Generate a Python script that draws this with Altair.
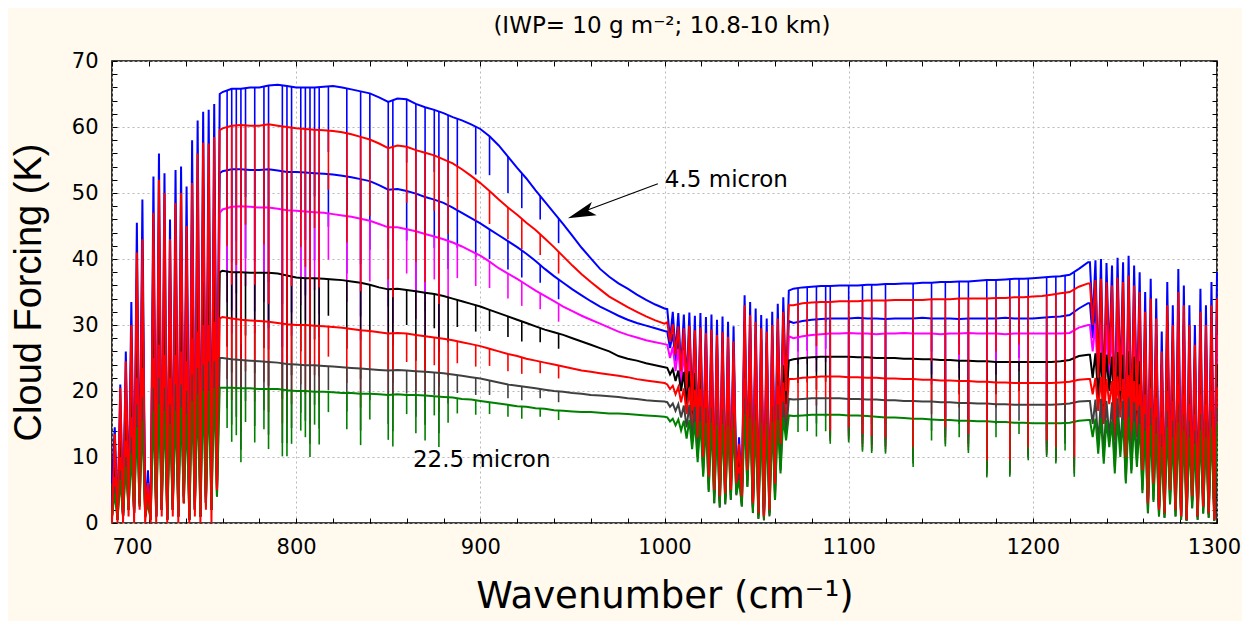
import altair as alt
import pandas as pd

# ---------------- wavenumber grids (cm-1) ----------------
wn_a = [700, 701.5, 703, 704.5, 706, 707.5, 709, 710.5, 712, 713.5, 715, 716.5, 718, 719.5,
        721, 722.5, 724, 725.5, 727, 728.5, 730, 731.5, 733, 734.5, 736, 737.5, 739, 740.5,
        742, 743.5, 745, 746.5, 748, 749.5, 751, 752.5, 754, 755.5, 757, 758.5]
wn_b = [760, 765, 770, 775, 780, 785, 790, 795, 800, 805, 810, 815, 820, 825, 830, 835, 840,
        845, 850, 855, 860, 865, 870, 875, 880, 885, 890, 895, 900, 905, 910, 915, 920, 925,
        930, 935, 940, 945, 950, 955, 960, 965, 970, 975, 980, 985, 990, 995, 1000]
wn_c = [1001.5, 1003, 1004.5, 1006, 1007.5, 1009, 1010.5, 1012, 1013.5, 1015, 1016.5, 1018,
        1019.5, 1021, 1022.5, 1024, 1025.5, 1027, 1028.5, 1030, 1031.5, 1033, 1034.5, 1036,
        1037.5, 1039, 1040.5, 1042, 1043.5, 1045, 1046.5, 1048, 1049.5, 1051, 1052.5, 1054,
        1055.5, 1057, 1058.5, 1060, 1061.5, 1063, 1064.5, 1066, 1067.5]
wn_d = [1070, 1075, 1080, 1085, 1090, 1095, 1100, 1105, 1110, 1115, 1120, 1125, 1130, 1135,
        1140, 1145, 1150, 1155, 1160, 1165, 1170, 1175, 1180, 1185, 1190, 1195, 1200, 1205,
        1210, 1215, 1220, 1225, 1230]
wn_e = [1231, 1232.5, 1234, 1235.5, 1237, 1238.5, 1240, 1241.5, 1243, 1244.5, 1246, 1247.5,
        1249, 1250.5, 1252, 1253.5, 1255, 1256.5, 1258, 1259.5, 1261, 1262.5, 1264, 1265.5,
        1267, 1268.5, 1270, 1271.5, 1273, 1274.5, 1276, 1277.5, 1279, 1280.5, 1282, 1283.5,
        1285, 1286.5, 1288, 1289.5, 1291, 1292.5, 1294, 1295.5, 1297, 1298.5, 1300]

# ---------------- cloud forcing (K), series 1 = 4.5 micron ... series 8 = 22.5 micron ----------------
# s1 (blue, top)
s1_a = [6, 14.5, 0.5, 21, 1, 26, 3, 33.5, 2, 45.5, 4, 49, 1, 8, 0.5, 52.5, 1, 56, 2, 53,
        0.5, 46, 3, 53.5, 1, 54, 5, 51, 0.5, 58, 2, 61, 1, 62.3, 4, 62.6, 2, 63.5, 8, 65]
s1_b = [65.3, 65.8, 65.8, 66.0, 66.0, 66.3, 66.4, 66.2, 66.0, 66.0, 66.0, 66.1, 66.2, 66.0,
        65.7, 65.4, 65.1, 64.5, 63.8, 64.3, 64.2, 63.5, 63.0, 62.6, 62.1, 61.5, 61.0, 60.4,
        59.7, 58.6, 57.2, 55.5, 53.8, 52.2, 50.4, 48.7, 47.0, 45.3, 43.5, 41.7, 40.1, 38.5,
        37.3, 36.3, 35.5, 34.6, 33.8, 33.1, 32.5]
s1_c = [32.4, 27.8, 32.0, 25.8, 31.8, 23.3, 31.6, 20.8, 31.9, 17.3, 31.4, 13.3, 31.8, 10.3,
        31.2, 7.3, 31.6, 5.3, 30.8, 4.3, 31.3, 4.8, 30.5, 5.3, 29.8, 6.3, 13, 4.3, 34.5, 8.3,
        33.5, 3.3, 32.5, 1.8, 31.5, 1.3, 31, 2.3, 32, 6.3, 33.2, 12.3, 34.2, 20.3, 35.2]
s1_d = [35.5, 35.7, 35.8, 35.9, 35.9, 36.0, 36.0, 36.0, 36.1, 36.1, 36.2, 36.2, 36.3, 36.3,
        36.4, 36.4, 36.5, 36.5, 36.6, 36.6, 36.7, 36.8, 36.8, 36.9, 37.0, 37.0, 37.1, 37.2,
        37.3, 37.4, 37.6, 38.5, 39.5]
s1_e = [39.5, 30.5, 39.8, 22.5, 40, 18.5, 39.4, 24.5, 39, 15.5, 40.2, 20.5, 39.5, 10.5, 40.5,
        14.5, 39, 17.5, 38, 8.5, 35, 3.5, 37, 6.5, 34, 2.5, 29, 2, 36.5, 5.5, 33, 2.5, 38.5,
        1.5, 36, 1, 33, 4.5, 30, 1.5, 35.5, 3, 33, 2, 36.5, 1, 38]

# s2 (red, second)
s2_a = [0, 13.5, 0, 20.5, 0, 24.5, 1, 30, 0, 41, 2, 43, 0, 6, 0, 47, 0, 52, 1, 50,
        0, 43, 1, 48.5, 0, 50, 3, 45, 0, 51.5, 1, 56, 0, 57.6, 2, 57.5, 0, 58.5, 5, 59.5]
s2_b = [59.8, 60.2, 60.3, 60.2, 60.2, 60.4, 60.2, 60.0, 59.8, 59.7, 59.6, 59.5, 59.4, 59.2,
        58.9, 58.5, 58.1, 57.5, 56.8, 57.2, 57.0, 56.5, 56.1, 55.7, 55.1, 54.5, 53.6, 52.6,
        51.5, 50.3, 49.0, 47.8, 46.7, 45.5, 44.4, 43.1, 41.8, 40.4, 39.0, 37.7, 36.5, 35.4,
        34.3, 33.5, 32.7, 32.0, 31.3, 30.7, 30.2]
s2_c = [30.4, 27.5, 30.1, 25.5, 29.8, 23, 29.5, 20.5, 29.9, 17, 29.2, 13, 29.6, 10, 28.8, 7,
        29.3, 5, 28.5, 4, 28.9, 4.5, 28.2, 5, 27.5, 6, 12, 4, 33, 8, 31.5, 3, 30.5, 1.5, 29.5,
        1, 29, 2, 30, 6, 31, 12, 32, 20, 33]
s2_d = [33.0, 33.3, 33.4, 33.5, 33.5, 33.6, 33.6, 33.6, 33.7, 33.7, 33.7, 33.8, 33.8, 33.8,
        33.8, 33.9, 33.9, 33.9, 34.0, 34.0, 34.0, 34.0, 34.1, 34.1, 34.2, 34.2, 34.3, 34.4,
        34.6, 34.8, 35.0, 35.8, 36.3]
s2_e = [36.3, 30, 36.8, 22, 37, 18, 36.5, 24, 36, 15, 37.2, 20, 36.5, 10, 37.5, 14, 36, 17,
        35, 8, 32, 3, 34, 6, 31, 2, 26, 1.5, 33, 5, 30, 2, 35, 1, 33, 0.5, 30, 4, 27, 1, 32,
        2.5, 30, 1.5, 33, 0.5, 34]

# s3 (blue, third)
s3_a = [1, 12, 0.5, 17, 1, 21.5, 2, 27.5, 1.5, 37, 3, 40, 1, 6.5, 0.5, 43, 1, 46, 2, 43.5,
        0.5, 38, 2, 44, 1, 44.5, 4, 42, 0.5, 47.5, 2, 50, 1, 51, 3, 51.5, 2, 52, 7, 53]
s3_b = [53.3, 53.6, 53.6, 53.5, 53.5, 53.6, 53.4, 53.2, 53.2, 53.1, 53.0, 52.9, 52.8, 52.6,
        52.4, 52.1, 51.8, 51.2, 50.5, 50.6, 50.3, 49.9, 49.4, 49.0, 48.5, 47.8, 47.0, 46.2,
        45.4, 44.5, 43.6, 42.7, 41.8, 40.8, 39.7, 38.5, 37.4, 36.4, 35.4, 34.5, 33.6, 32.8,
        32.1, 31.4, 30.8, 30.3, 29.9, 29.5, 29.1]
s3_c = [29.0, 26.5, 28.7, 24.5, 28.4, 22, 28.2, 19.5, 28.4, 16.5, 27.9, 12.5, 28.1, 9.5, 27.6,
        6.5, 27.9, 4.5, 27.3, 3.8, 27.6, 4.2, 27.0, 4.8, 26.3, 5.8, 11, 3.8, 30.5, 7.5, 29.5,
        2.8, 28.6, 1.4, 27.8, 1, 27.3, 1.8, 28.2, 5.5, 29, 11, 29.8, 18.5, 30.6]
s3_d = [30.3, 30.6, 30.8, 30.9, 31.0, 31.0, 31.0, 31.1, 31.0, 31.0, 30.9, 31.0, 31.0, 31.0,
        31.1, 31.0, 31.0, 31.0, 30.9, 31.0, 31.0, 31.0, 31.0, 31.1, 31.0, 31.0, 31.0, 31.1,
        31.2, 31.3, 31.5, 32.5, 33.3]
s3_e = [33.3, 28, 33.6, 21, 33.8, 17.5, 33.3, 23, 33, 14.5, 34, 19.5, 33.4, 9.5, 34.3, 13.5,
        33, 16.5, 32, 7.8, 29.5, 2.8, 31, 5.8, 28.5, 1.9, 24, 1.4, 30.5, 4.8, 27.5, 1.9, 32,
        0.9, 30, 0.5, 27.5, 3.8, 25, 0.9, 29.5, 2.4, 27.5, 1.4, 30.5, 0.5, 31.5]

# s4 (magenta)
s4_a = [1, 10.5, 0.5, 15, 1, 19, 2, 24.5, 1.5, 33, 3, 35.5, 1, 6, 0.5, 38.5, 1, 41, 2, 38.5,
        0.5, 33.5, 2, 39, 1, 39.5, 4, 37, 0.5, 42.5, 2, 44.5, 1, 45.5, 3, 45.5, 2, 46.5, 6, 47]
s4_b = [47.5, 47.9, 48.0, 47.9, 47.8, 47.8, 47.6, 47.4, 47.3, 47.2, 47.1, 47.0, 46.8, 46.6,
        46.4, 46.1, 45.8, 45.3, 44.8, 44.8, 44.5, 44.2, 43.8, 43.4, 43.0, 42.5, 41.9, 41.2,
        40.5, 39.6, 38.6, 37.8, 37.0, 36.1, 35.2, 34.4, 33.6, 32.8, 32.1, 31.4, 30.8, 30.2,
        29.6, 29.0, 28.5, 28.1, 27.7, 27.4, 27.1]
s4_c = [27.0, 25, 26.7, 23, 26.4, 21, 26.2, 18.5, 26.4, 15.5, 26.0, 12, 26.2, 9, 25.7, 6.2,
        25.9, 4.3, 25.4, 3.6, 25.7, 4, 25.2, 4.6, 24.5, 5.5, 10.5, 3.6, 28.2, 7, 27.3, 2.6,
        26.5, 1.3, 25.8, 0.9, 25.4, 1.7, 26.1, 5, 26.8, 10, 27.5, 17, 28.3]
s4_d = [28.0, 28.3, 28.5, 28.6, 28.7, 28.7, 28.8, 28.7, 28.7, 28.6, 28.7, 28.7, 28.8, 28.7,
        28.7, 28.7, 28.6, 28.7, 28.7, 28.8, 28.7, 28.7, 28.7, 28.6, 28.7, 28.7, 28.7, 28.7,
        28.7, 28.7, 28.8, 29.6, 30.0]
s4_e = [30, 26, 30.2, 20.5, 30.4, 17, 30, 22, 29.7, 14, 30.5, 19, 30, 9.5, 30.8, 13, 29.7, 16,
        28.8, 7.5, 26.5, 2.8, 28, 5.5, 25.5, 1.9, 21.5, 1.4, 27.5, 4.7, 24.5, 1.9, 29, 0.9,
        27, 0.5, 24.5, 3.7, 22.5, 0.9, 26.5, 2.3, 24.5, 1.4, 27.5, 0.5, 28.5]

# s5 (black)
s5_a = [1, 8.5, 0.5, 12.5, 1, 15.5, 2, 20, 1.5, 27, 3, 29, 1, 5, 0.5, 31, 1, 33, 2, 31.5,
        0.5, 27, 2, 31.5, 1, 32, 4, 30, 0.5, 34, 2, 36, 1, 36.5, 3, 37, 2, 37.5, 5, 38]
s5_b = [38.2, 38.0, 38.0, 37.9, 37.9, 37.9, 37.8, 37.5, 37.2, 37.1, 37.1, 37.0, 36.9, 36.8,
        36.6, 36.4, 36.1, 35.7, 35.4, 35.5, 35.3, 35.1, 34.9, 34.7, 34.4, 34.0, 33.6, 33.2,
        32.8, 32.3, 31.8, 31.3, 30.8, 30.3, 29.8, 29.3, 28.9, 28.5, 28.0, 27.5, 27.0, 26.5,
        26.0, 25.3, 24.9, 24.6, 24.2, 23.9, 23.6]
s5_c = [23.5, 22.5, 23.3, 21.5, 23.1, 20, 22.9, 18, 23.0, 15.5, 22.7, 13.5, 22.8, 11, 22.5,
        7.5, 22.6, 4.5, 22.2, 3.3, 22.4, 3.8, 22.0, 5.5, 21.5, 6.5, 9.5, 3.3, 24.5, 9, 23.7,
        2.4, 23.0, 1.2, 22.5, 0.8, 22.2, 2.2, 22.8, 6.5, 23.3, 12, 23.9, 18, 24.6]
s5_d = [24.8, 25.0, 25.1, 25.2, 25.2, 25.2, 25.2, 25.1, 25.1, 25.0, 25.0, 25.0, 24.9, 24.9,
        24.8, 24.8, 24.7, 24.7, 24.6, 24.6, 24.5, 24.5, 24.4, 24.4, 24.4, 24.4, 24.4, 24.4,
        24.4, 24.5, 24.7, 25.3, 25.5]
s5_e = [25.5, 22, 25.7, 19, 25.8, 17, 25.5, 20, 25.2, 14, 25.9, 18, 25.5, 10, 26, 13, 25.2,
        15, 24.5, 7.5, 22.5, 3, 24, 5.5, 22, 2, 18, 1.5, 23, 4.5, 21, 2, 24.5, 1, 23, 0.5, 21,
        3.5, 19, 1, 22.5, 2.5, 21, 1.5, 23, 0.5, 24]

# s6 (red, lower)
s6_a = [1, 7, 0.5, 10, 1, 12.5, 2, 16, 1.5, 22, 3, 23.5, 1, 4, 0.5, 25, 1, 27, 2, 25.5,
        0.5, 22, 2, 25.5, 1, 26, 3, 24.5, 0.5, 28, 2, 29, 1, 30, 3, 30, 2, 30.5, 5, 31]
s6_b = [31.2, 31.0, 30.8, 30.7, 30.6, 30.5, 30.3, 30.1, 30.0, 30.0, 29.9, 29.8, 29.7, 29.6,
        29.4, 29.2, 29.1, 28.9, 28.7, 28.8, 28.7, 28.5, 28.3, 28.1, 27.9, 27.7, 27.4, 27.1,
        26.8, 26.4, 26.0, 25.6, 25.3, 24.9, 24.6, 24.3, 24.0, 23.7, 23.4, 23.1, 22.9, 22.7,
        22.5, 22.3, 22.1, 21.8, 21.6, 21.4, 21.2]
s6_c = [21.0, 20.3, 20.8, 19.5, 20.6, 18.3, 20.4, 16.5, 20.5, 14, 20.2, 11.5, 20.3, 8.5, 20.0,
        6, 20.1, 4, 19.8, 3, 19.9, 3.5, 19.6, 4.3, 19.2, 5, 8.5, 3, 22.0, 6.5, 21.3, 2.2, 20.7,
        1, 20.2, 0.7, 20.0, 1.5, 20.4, 4.5, 20.8, 9, 21.3, 15, 21.8]
s6_d = [21.8, 22.0, 22.1, 22.2, 22.2, 22.2, 22.1, 22.1, 22.0, 22.0, 21.9, 21.9, 21.8, 21.8,
        21.7, 21.7, 21.6, 21.6, 21.5, 21.5, 21.4, 21.4, 21.3, 21.3, 21.2, 21.2, 21.2, 21.2,
        21.2, 21.3, 21.4, 21.7, 21.8]
s6_e = [21.8, 19.5, 22, 17, 22.1, 15, 21.8, 18, 21.5, 12.5, 22.2, 16, 21.8, 9, 22.4, 11.5,
        21.5, 13, 21, 7, 19.5, 2.8, 20.5, 5, 19, 1.8, 16, 1.3, 20, 4.3, 18.5, 1.8, 21, 0.9,
        19.5, 0.5, 18, 3.3, 16.5, 0.9, 19.5, 2.2, 18, 1.3, 20, 0.5, 20.5]

# s7 (dark grey)
s7_a = [1, 5.5, 0.5, 8, 1, 10, 2, 13, 1.5, 18, 2.5, 19, 1, 3.5, 0.5, 20.5, 1, 22, 2, 20.5,
        0.5, 18, 2, 21, 1, 21, 3, 20, 0.5, 22.5, 2, 23.5, 1, 24, 3, 24.5, 2, 24.5, 4, 25]
s7_b = [25.0, 24.8, 24.7, 24.6, 24.5, 24.4, 24.3, 24.1, 24.0, 23.9, 23.9, 23.8, 23.7, 23.6,
        23.5, 23.4, 23.3, 23.2, 23.1, 23.2, 23.1, 23.0, 22.9, 22.8, 22.7, 22.5, 22.3, 22.1,
        21.9, 21.6, 21.3, 21.0, 20.8, 20.6, 20.4, 20.2, 20.0, 19.9, 19.7, 19.6, 19.4, 19.3,
        19.2, 19.1, 18.9, 18.8, 18.6, 18.5, 18.4]
s7_c = [18.3, 17.6, 18.1, 17, 18.0, 16, 17.8, 14.5, 17.9, 12.5, 17.6, 10, 17.7, 7.5, 17.4, 5,
        17.5, 3, 17.2, 2.3, 17.3, 2.8, 17.0, 3.5, 16.6, 4.2, 7.5, 2.5, 19.0, 5.5, 18.4, 1.5,
        18.0, 0.6, 17.6, 0.4, 17.4, 1, 17.7, 3.5, 18.0, 8, 18.4, 13.5, 18.8]
s7_d = [18.7, 18.8, 18.9, 18.9, 18.9, 18.9, 18.8, 18.8, 18.7, 18.7, 18.6, 18.6, 18.5, 18.5,
        18.4, 18.4, 18.3, 18.3, 18.2, 18.2, 18.1, 18.1, 18.0, 18.0, 17.9, 17.9, 17.9, 17.9,
        17.9, 18.0, 18.1, 18.4, 18.5]
s7_e = [18.5, 15, 18.7, 12, 18.8, 10, 18.5, 13, 18.3, 8.5, 18.9, 11, 18.5, 6.5, 19, 8, 18.3,
        9.5, 17.8, 5, 16.5, 1.5, 17.5, 3.5, 16, 1, 13.5, 0.8, 17, 3, 15.5, 1, 18, 0.5, 16.5,
        0.3, 15.5, 2.3, 14, 0.5, 16.5, 1.5, 15.5, 0.8, 17, 0.3, 17.5]

# s8 (green, bottom)
s8_a = [1, 4.5, 0.5, 6.5, 1, 8.5, 2, 10.5, 1.5, 14.5, 2.5, 15.5, 1, 3, 0.5, 17, 1, 18, 2, 17,
        0.5, 15, 2, 17, 1, 17.5, 3, 16.5, 0.5, 18.5, 2, 19.5, 1, 20, 2.5, 20, 2, 20.5, 4, 20.5]
s8_b = [20.5, 20.5, 20.4, 20.4, 20.3, 20.3, 20.3, 20.1, 20.0, 20.0, 19.9, 19.9, 19.8, 19.7,
        19.7, 19.6, 19.6, 19.5, 19.4, 19.5, 19.4, 19.4, 19.3, 19.2, 19.1, 19.0, 18.8, 18.7,
        18.5, 18.3, 18.1, 17.9, 17.7, 17.6, 17.4, 17.3, 17.1, 17.0, 16.9, 16.8, 16.8, 16.7,
        16.6, 16.6, 16.5, 16.4, 16.3, 16.2, 16.1]
s8_c = [16.0, 15.4, 15.8, 14.8, 15.7, 14, 15.5, 12.8, 15.6, 11.2, 15.3, 9.2, 15.4, 7, 15.1,
        4.7, 15.2, 3, 14.9, 2.5, 15.0, 3, 14.7, 3.6, 14.4, 4.4, 6.5, 2.5, 16.4, 5.5, 15.9, 1.6,
        15.5, 0.7, 15.2, 0.5, 15.0, 1.2, 15.3, 3.5, 15.6, 7.5, 16.0, 12.5, 16.3]
s8_d = [16.2, 16.3, 16.4, 16.4, 16.4, 16.4, 16.3, 16.3, 16.2, 16.1, 16.0, 16.0, 15.9, 15.8,
        15.8, 15.7, 15.6, 15.6, 15.5, 15.5, 15.4, 15.4, 15.3, 15.3, 15.2, 15.2, 15.1, 15.1,
        15.1, 15.1, 15.2, 15.5, 15.6]
s8_e = [15.6, 13, 15.8, 10.5, 15.9, 9, 15.6, 11.5, 15.4, 7.5, 16, 10, 15.6, 6, 16.1, 7.5, 15.4,
        8.5, 15, 4.5, 14, 1.5, 14.8, 3.2, 13.5, 1, 11.5, 0.8, 14.5, 2.8, 13, 1, 15.2, 0.5, 14,
        0.3, 13, 2.2, 12, 0.5, 14, 1.4, 13, 0.8, 14.5, 0.3, 15]

# ---------------- narrow absorption lines in the window regions ----------------
dip_wn = [762.5, 765, 767.5, 770, 772.5, 777.5, 782.5, 785, 792.5, 795, 797.5, 802.5, 805,
          807.5, 810, 812.5, 817.5, 827.5, 835, 840, 850, 852.5, 860, 865, 870, 875, 877.5,
          882.5, 887.5, 897.5, 905, 915, 922.5, 932.5, 942.5,
          1072.5, 1077.5, 1082.5, 1087.5, 1090, 1100, 1107.5, 1112.5, 1120, 1135, 1145, 1152.5,
          1160, 1165, 1175, 1180, 1187.5, 1192.5, 1197.5, 1207.5, 1212.5, 1217.5, 1222.5]

s1_top = [65.5, 65.8, 65.8, 65.8, 65.9, 66.0, 66.1, 66.3, 66.3, 66.2, 66.1, 66.0, 66.0, 66.0,
          66.0, 66.0, 66.1, 65.8, 65.4, 65.1, 63.8, 64.0, 64.2, 63.5, 63.0, 62.6, 62.3, 61.8,
          61.2, 60.0, 58.6, 55.5, 53.0, 49.5, 46.1,
          35.6, 35.8, 35.9, 35.9, 35.9, 36.0, 36.0, 36.1, 36.2, 36.3, 36.4, 36.5, 36.6, 36.6,
          36.8, 36.8, 36.9, 37.0, 37.0, 37.2, 37.3, 37.5, 38.0]
s1_min = [45.9, 39.5, 42.8, 29.6, 49.4, 39.6, 46.3, 36.5, 33.2, 33.1, 39.7, 46.2, 42.9, 33.0,
          49.5, 39.6, 56.2, 47.4, 39.2, 52.1, 41.5, 38.4, 54.6, 44.5, 41.0, 53.2, 37.4, 49.4,
          53.9, 52.8, 52.7, 50.0, 47.7, 46.0, 42.4,
          30.3, 30.4, 28.7, 30.5, 16, 16.5, 15, 15, 15, 13, 26, 16, 27, 15, 11, 28, 11, 29, 13,
          14, 13, 20, 12]
s2_top = [60.0, 60.2, 60.2, 60.3, 60.2, 60.2, 60.3, 60.4, 60.1, 60.0, 59.9, 59.7, 59.7, 59.6,
          59.6, 59.5, 59.4, 59.0, 58.5, 58.1, 56.8, 57.0, 57.0, 56.5, 56.1, 55.7, 55.4, 54.8,
          54.0, 52.0, 50.3, 47.8, 46.1, 43.7, 41.1,
          33.2, 33.4, 33.5, 33.5, 33.5, 33.6, 33.6, 33.7, 33.7, 33.8, 33.9, 33.9, 34.0, 34.0,
          34.0, 34.1, 34.1, 34.2, 34.2, 34.5, 34.7, 34.9, 35.4]
s2_min = [42, 36.1, 39.1, 27.1, 45.2, 36.1, 42.2, 33.2, 30.1, 30.0, 35.9, 41.8, 38.8, 29.8,
          44.7, 35.7, 50.5, 42.5, 35.1, 46.5, 36.9, 34.2, 48.5, 39.6, 36.5, 47.3, 33.2, 43.8,
          47.5, 45.8, 45.3, 43.0, 41.5, 40.6, 37.8,
          28.3, 28.4, 26.8, 28.5, 14, 14.5, 13.5, 13.2, 13, 11.5, 24.5, 14.5, 25.5, 13.5, 9.5,
          26, 9.5, 27, 11.5, 12.5, 11.5, 18, 10]
s3_top = [53.4, 53.6, 53.6, 53.6, 53.5, 53.5, 53.5, 53.6, 53.3, 53.2, 53.2, 53.1, 53.1, 53.0,
          53.0, 52.9, 52.8, 52.5, 52.1, 51.8, 50.5, 50.5, 50.3, 49.9, 49.4, 49.0, 48.7, 48.1,
          47.4, 45.8, 44.5, 42.7, 41.3, 39.1, 36.9,
          30.5, 30.7, 30.9, 31.0, 31.0, 31.0, 31.0, 31.0, 31.0, 31.0, 31.0, 31.0, 31.0, 31.0,
          31.0, 31.0, 31.0, 31.0, 31.0, 31.1, 31.2, 31.4, 32.0]
s3_min = [37.4, 32.2, 34.8, 24.1, 40.1, 32.1, 37.5, 29.5, 26.7, 26.6, 31.9, 37.2, 34.5, 26.5,
          39.8, 31.7, 44.9, 37.8, 31.3, 41.4, 32.8, 30.3, 42.8, 34.9, 32.1, 41.7, 29.2, 38.5,
          41.7, 40.3, 40.0, 38.4, 37.2, 36.4, 33.9,
          26.0, 26.1, 24.7, 26.4, 13.6, 14, 13, 12.8, 12.6, 11, 22.5, 14, 23.5, 13, 9, 24, 9,
          25, 11, 12, 11, 16.5, 9.5]
s4_top = [47.7, 47.9, 47.9, 48.0, 47.9, 47.8, 47.8, 47.8, 47.5, 47.4, 47.3, 47.2, 47.2, 47.1,
          47.1, 47.0, 46.9, 46.5, 46.1, 45.8, 44.8, 44.8, 44.5, 44.2, 43.8, 43.4, 43.2, 42.7,
          42.2, 40.8, 39.6, 37.8, 36.5, 34.8, 33.2,
          28.2, 28.4, 28.6, 28.7, 28.7, 28.7, 28.7, 28.7, 28.7, 28.7, 28.7, 28.7, 28.7, 28.7,
          28.7, 28.7, 28.7, 28.7, 28.7, 28.7, 28.7, 28.7, 29.2]
s4_min = [33.4, 28.7, 31.1, 21.6, 35.9, 28.7, 33.5, 26.3, 23.8, 23.7, 28.4, 33.0, 30.7, 23.6,
          35.3, 28.2, 39.9, 33.5, 27.7, 36.6, 29.1, 26.9, 37.8, 30.9, 28.5, 36.9, 25.9, 34.2,
          37.1, 35.9, 35.6, 34.0, 32.9, 32.4, 30.5,
          24.1, 24.1, 22.9, 24.4, 13.3, 13.6, 12.5, 12.3, 12.1, 10.5, 21, 13.5, 22, 12.5, 8.5,
          22.5, 8.5, 23, 10.6, 11.5, 10.5, 15.5, 9]
s5_top = [38.1, 38.0, 38.0, 38.0, 37.9, 37.9, 37.9, 37.9, 37.6, 37.5, 37.3, 37.1, 37.1, 37.1,
          37.1, 37.0, 36.9, 36.7, 36.4, 36.1, 35.4, 35.4, 35.3, 35.1, 34.9, 34.7, 34.5, 34.2,
          33.8, 33.0, 32.3, 31.3, 30.5, 29.5, 28.7,
          24.9, 25.1, 25.2, 25.2, 25.2, 25.2, 25.1, 25.1, 25.0, 24.9, 24.8, 24.7, 24.6, 24.6,
          24.5, 24.4, 24.4, 24.4, 24.4, 24.4, 24.4, 24.6, 25.0]
s5_min = [26.7, 22.8, 24.7, 17.1, 28.4, 22.7, 26.5, 20.8, 18.8, 18.8, 22.4, 26.0, 24.1, 18.6,
          27.8, 22.2, 31.4, 26.4, 21.8, 28.9, 23.0, 21.2, 30.0, 24.6, 22.7, 29.5, 20.7, 27.4,
          29.7, 29.0, 29.1, 28.2, 27.5, 27.4, 26.4,
          21.2, 21.3, 20.2, 21.4, 13, 13.2, 12, 11.8, 11.6, 10, 18.5, 13, 19.5, 12, 8, 19.5, 8,
          20, 10.3, 11, 10, 14, 8.5]
s6_top = [31.1, 31.0, 30.9, 30.8, 30.7, 30.6, 30.5, 30.5, 30.2, 30.1, 30.0, 30.0, 30.0, 29.9,
          29.9, 29.8, 29.7, 29.5, 29.2, 29.1, 28.7, 28.7, 28.7, 28.5, 28.3, 28.1, 28.0, 27.8,
          27.5, 26.9, 26.4, 25.6, 25.1, 24.4, 23.8,
          21.9, 22.1, 22.2, 22.2, 22.2, 22.1, 22.1, 22.0, 21.9, 21.8, 21.7, 21.6, 21.5, 21.5,
          21.4, 21.3, 21.3, 21.2, 21.2, 21.2, 21.2, 21.3, 21.5]
s6_min = [21.8, 18.6, 20.1, 13.9, 23.0, 18.4, 21.4, 16.8, 15.1, 15.1, 18.0, 21.0, 19.5, 15.0,
          22.4, 17.9, 25.2, 21.2, 17.5, 23.3, 18.7, 17.2, 24.4, 20.0, 18.4, 23.9, 16.8, 22.2,
          24.2, 23.7, 23.8, 23.0, 22.6, 22.7, 21.9,
          18.6, 18.8, 17.8, 18.9, 12.7, 12.8, 11.5, 11.3, 11.2, 9.5, 16.5, 12.5, 17.5, 11.5,
          7.6, 17.5, 7.6, 18, 10, 10.6, 9.6, 13, 8]
s7_top = [24.9, 24.8, 24.7, 24.7, 24.6, 24.5, 24.4, 24.4, 24.2, 24.1, 24.0, 23.9, 23.9, 23.9,
          23.9, 23.8, 23.7, 23.5, 23.4, 23.3, 23.1, 23.1, 23.1, 23.0, 22.9, 22.8, 22.7, 22.6,
          22.4, 22.0, 21.6, 21.0, 20.7, 20.3, 19.9,
          18.8, 18.9, 18.9, 18.9, 18.9, 18.8, 18.8, 18.7, 18.6, 18.5, 18.4, 18.3, 18.2, 18.2,
          18.1, 18.0, 18.0, 17.9, 17.9, 17.9, 17.9, 18.0, 18.2]
s7_min = [17.4, 14.9, 16.1, 11.1, 18.5, 14.7, 17.1, 13.4, 12.1, 12.1, 14.4, 16.7, 15.5, 12.0,
          17.9, 14.3, 20.1, 16.9, 14.0, 18.6, 15.0, 13.9, 19.6, 16.1, 14.9, 19.4, 13.6, 18.1,
          19.7, 19.4, 19.4, 18.9, 18.6, 18.9, 18.3,
          16.0, 16.1, 15.1, 16.1, 12.4, 12.5, 11.1, 10.9, 10.8, 9, 14, 12, 15, 11, 7.2, 15, 7.3,
          15.5, 9.8, 10.3, 9.3, 12, 7.5]
s8_top = [20.5, 20.5, 20.4, 20.4, 20.4, 20.3, 20.3, 20.3, 20.2, 20.1, 20.0, 20.0, 20.0, 19.9,
          19.9, 19.9, 19.8, 19.7, 19.6, 19.6, 19.4, 19.4, 19.4, 19.4, 19.3, 19.2, 19.1, 19.0,
          18.9, 18.6, 18.3, 17.9, 17.6, 17.3, 17.0,
          16.3, 16.4, 16.4, 16.4, 16.4, 16.3, 16.3, 16.2, 16.0, 15.8, 15.7, 15.6, 15.5, 15.5,
          15.4, 15.3, 15.3, 15.2, 15.2, 15.1, 15.1, 15.1, 15.3]
s8_min = [14.4, 12.3, 13.3, 9.2, 15.3, 12.2, 14.2, 11.2, 10.1, 10.1, 12.0, 14.0, 13.0, 10.0,
          14.9, 11.9, 16.8, 14.2, 11.8, 15.7, 12.6, 11.6, 16.5, 13.6, 12.5, 16.3, 11.5, 15.2,
          16.6, 16.4, 16.5, 16.1, 15.8, 16.1, 15.6,
          13.8, 13.9, 13.1, 13.9, 12.0, 12.2, 10.8, 10.6, 10.5, 8.5, 12.5, 11.6, 13, 10.6, 6.9,
          13, 7.0, 13.5, 9.5, 10.0, 9.0, 11, 7.0]

# ---------------- texts and annotations ----------------
title_text = ["(IWP= 10 g m⁻²; 10.8-10 km)"]
title_wn = [998.6]
title_cf = [74.2]
ann_text = ["4.5 micron", "22.5 micron"]
ann_wn = [1000.2, 863.4]
ann_cf = [52.0, 9.5]
arrow_wn = [996.4, 956.0]
arrow_cf = [51.4, 47.2]
head_wn = [954.7]
head_cf = [46.9]

x_major = [700, 800, 900, 1000, 1100, 1200, 1300]
y_major = [0, 10, 20, 30, 40, 50, 60, 70]
x_minor = list(range(700, 1301, 20))
y_minor = list(range(0, 71, 2))

# ---------------- build tables ----------------
keys = ["s1", "s2", "s3", "s4", "s5", "s6", "s7", "s8"]
colors = {"s1": "#0000FF", "s2": "#FF0000", "s3": "#0000FF", "s4": "#FF00FF",
          "s5": "#000000", "s6": "#FF0000", "s7": "#404040", "s8": "#008000"}
draw_order = ["s1", "s3", "s4", "s5", "s6", "s7", "s8", "s2"]

wn = wn_a + wn_b + wn_c + wn_d + wn_e
spec = {
    "s1": s1_a + s1_b + s1_c + s1_d + s1_e,
    "s2": s2_a + s2_b + s2_c + s2_d + s2_e,
    "s3": s3_a + s3_b + s3_c + s3_d + s3_e,
    "s4": s4_a + s4_b + s4_c + s4_d + s4_e,
    "s5": s5_a + s5_b + s5_c + s5_d + s5_e,
    "s6": s6_a + s6_b + s6_c + s6_d + s6_e,
    "s7": s7_a + s7_b + s7_c + s7_d + s7_e,
    "s8": s8_a + s8_b + s8_c + s8_d + s8_e,
}
tops = {"s1": s1_top, "s2": s2_top, "s3": s3_top, "s4": s4_top,
        "s5": s5_top, "s6": s6_top, "s7": s7_top, "s8": s8_top}
mins = {"s1": s1_min, "s2": s2_min, "s3": s3_min, "s4": s4_min,
        "s5": s5_min, "s6": s6_min, "s7": s7_min, "s8": s8_min}

rows = []
for k in keys:
    assert len(spec[k]) == len(wn), (k, len(spec[k]), len(wn))
    for x, y in zip(wn, spec[k]):
        rows.append({"wn": x, "cf": y, "s": k})
df = pd.DataFrame(rows)

drows = []
for k in keys:
    assert len(tops[k]) == len(dip_wn) and len(mins[k]) == len(dip_wn), (k, len(tops[k]), len(mins[k]))
    for x, t, m in zip(dip_wn, tops[k], mins[k]):
        drows.append({"wn": x, "hi": t, "lo": m, "s": k})
ddf = pd.DataFrame(drows)

xs = alt.Scale(domain=[700, 1300], nice=False, zero=False)
ys = alt.Scale(domain=[0, 70], nice=False)

frame = pd.DataFrame({"wn": [700, 1300], "cf": [0, 70]})
LBL = "DejaVu Sans"

main_axes = alt.Chart(frame).mark_point(opacity=0).encode(
    x=alt.X("wn:Q", scale=xs, axis=alt.Axis(
        orient="bottom", values=x_major, format="d", labelFlush=False,
        labelAlign={"condition": {"test": "datum.value <= 700", "value": "left"}, "value": "center"},
        labelOffset={"condition": {"test": "datum.value >= 1300", "value": -3}, "value": 0},
        grid=True, gridDash=[2, 3], gridColor="#b8b8b8",
        ticks=False, tickSize=0, domain=False, labelFont=LBL, labelFontSize=21,
        labelColor="black", labelPadding=13, title="Wavenumber (cm⁻¹)", titleFont=LBL,
        titleFontSize=37, titleFontWeight="normal", titleColor="black", titlePadding=21)),
    y=alt.Y("cf:Q", scale=ys, axis=alt.Axis(
        orient="left", values=y_major, grid=True, gridDash=[2, 3], gridColor="#b8b8b8",
        ticks=False, tickSize=0, domain=False, labelFont=LBL, labelFontSize=21,
        labelColor="black", labelPadding=14, title="Cloud Forcing (K)",
        titleFont="Liberation Sans", titleFontSize=38, titleFontWeight="normal",
        titleColor="black", titlePadding=23)),
)


def tick_layer(orient):
    ax = alt.Axis(orient=orient, values=(x_minor if orient in ("bottom", "top") else y_minor),
                  ticks=True, tickSize=5, tickColor="black", tickWidth=1, labels=False,
                  domain=False, grid=False, title=None, offset=-5)
    if orient in ("bottom", "top"):
        return alt.Chart(frame).mark_point(opacity=0).encode(
            x=alt.X("wn:Q", scale=xs, axis=ax), y=alt.Y("cf:Q", scale=ys, axis=None))
    return alt.Chart(frame).mark_point(opacity=0).encode(
        x=alt.X("wn:Q", scale=xs, axis=None), y=alt.Y("cf:Q", scale=ys, axis=ax))


layers = [main_axes] + [tick_layer(o) for o in ("bottom", "top", "left", "right")]

for k in draw_order:
    line = alt.Chart(df).transform_filter(alt.datum.s == k).mark_line(
        color=colors[k], strokeWidth=2.0, strokeJoin="miter").encode(
        x=alt.X("wn:Q", scale=xs, axis=None), y=alt.Y("cf:Q", scale=ys, axis=None))
    rule = alt.Chart(ddf).transform_filter(alt.datum.s == k).mark_rule(
        color=colors[k], strokeWidth=1.6).encode(
        x=alt.X("wn:Q", scale=xs, axis=None), y=alt.Y("lo:Q", scale=ys, axis=None), y2="hi:Q")
    layers += [line, rule]

ann_df = pd.DataFrame({"wn": ann_wn, "cf": ann_cf, "t": ann_text})
texts = alt.Chart(ann_df).mark_text(align="left", baseline="middle", font=LBL, fontSize=23,
                                    color="black").encode(
    x=alt.X("wn:Q", scale=xs, axis=None), y=alt.Y("cf:Q", scale=ys, axis=None), text="t:N")
title_df = pd.DataFrame({"wn": title_wn, "cf": title_cf, "t": title_text})
title = alt.Chart(title_df).mark_text(align="center", baseline="alphabetic", font=LBL,
                                      fontSize=23, color="black").encode(
    x=alt.X("wn:Q", scale=xs, axis=None), y=alt.Y("cf:Q", scale=ys, axis=None), text="t:N")
arrow_df = pd.DataFrame({"wn": arrow_wn, "cf": arrow_cf})
arrow = alt.Chart(arrow_df).mark_line(color="black", strokeWidth=1.2).encode(
    x=alt.X("wn:Q", scale=xs, axis=None), y=alt.Y("cf:Q", scale=ys, axis=None))
head_df = pd.DataFrame({"wn": head_wn, "cf": head_cf})
head = alt.Chart(head_df).mark_point(
    shape="M0,-1L0.5,1L0,0.55L-0.5,1Z", filled=True, color="black", opacity=1,
    size=784, angle=250, strokeWidth=0).encode(
    x=alt.X("wn:Q", scale=xs, axis=None), y=alt.Y("cf:Q", scale=ys, axis=None))
layers += [texts, title, arrow, head]

chart = alt.layer(*layers).resolve_axis(x="independent", y="independent").properties(
    width=1105, height=462,
    autosize=alt.AutoSizeParams(type="none"),
    padding={"left": 104, "top": 53, "right": 25, "bottom": 98},
    background="#FFF9EE",
).configure_view(stroke="black", strokeWidth=1.6, fill="white")

chart.save("out.html", embed_options={"renderer": "svg", "actions": False})
